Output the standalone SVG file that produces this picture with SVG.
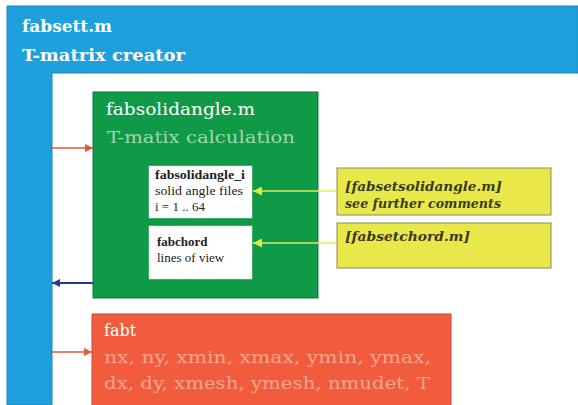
<svg xmlns="http://www.w3.org/2000/svg" width="578" height="405" viewBox="0 0 578 405">
<defs>
<style>
text{font-family:"DejaVu Serif","Liberation Serif",serif}
.big{font-size:17px;font-weight:bold}
.mid{font-size:16px}
.small{font-size:13px;fill:#222;font-family:"Liberation Serif","DejaVu Serif",serif}
.yel{font-size:12.5px;font-weight:bold;font-style:italic;fill:#3a3a1a}
</style>
<marker id="ahR" viewBox="0 0 10 10" refX="10" refY="5" markerWidth="8" markerHeight="8" orient="auto" markerUnits="userSpaceOnUse"><path d="M0,0 L10,5 L0,10 z" fill="#e8553a"/></marker>
<marker id="ahB" viewBox="0 0 10 10" refX="10" refY="5" markerWidth="8" markerHeight="8" orient="auto" markerUnits="userSpaceOnUse"><path d="M0,0 L10,5 L0,10 z" fill="#1d3d8c"/></marker>
<marker id="ahY" viewBox="0 0 10 10" refX="10" refY="5" markerWidth="9" markerHeight="9" orient="auto" markerUnits="userSpaceOnUse"><path d="M0,0 L10,5 L0,10 z" fill="#e2ea3c"/></marker>
</defs>
<rect width="578" height="405" fill="#ffffff"/>
<g id="fabsett">
<path d="M7,6 H578 V73 H52 V405 H7 Z" fill="#1ea0dc" stroke="#1a86bb" stroke-width="1"/>
<text class="big" x="22" y="32" fill="#ffffff" textLength="90" lengthAdjust="spacingAndGlyphs">fabsett.m</text>
<text class="big" x="22" y="61" fill="#ffffff" textLength="163" lengthAdjust="spacingAndGlyphs">T-matrix creator</text>
</g>
<g id="fabsolidangle">
<rect x="93" y="92" width="225" height="206" fill="#0f9a48" stroke="#0c7a39" stroke-width="1"/>
<text class="mid" x="106" y="115" fill="#ffffff" textLength="149" lengthAdjust="spacingAndGlyphs">fabsolidangle.m</text>
<text class="mid" x="107" y="143" fill="#9fd7a9" textLength="188" lengthAdjust="spacingAndGlyphs">T-matix calculation</text>
</g>
<g id="fabsolidangle_i">
<rect x="149" y="166" width="103" height="52" fill="#ffffff" stroke="#dddddd" stroke-width="0.5"/>
<text class="small" x="155" y="179" font-weight="bold" textLength="90" lengthAdjust="spacingAndGlyphs">fabsolidangle_i</text>
<text class="small" x="155" y="195" textLength="88" lengthAdjust="spacingAndGlyphs">solid angle files</text>
<text class="small" x="155" y="211">i = 1 .. 64</text>
</g>
<g id="fabchord">
<rect x="149" y="226" width="103" height="53" fill="#ffffff" stroke="#dddddd" stroke-width="0.5"/>
<text class="small" x="157" y="246" font-weight="bold">fabchord</text>
<text class="small" x="157" y="262">lines of view</text>
</g>
<g id="fabsetsolidangle">
<rect x="337" y="168" width="214" height="47" fill="#e8e84a" stroke="#8a8a5a" stroke-width="1"/>
<text class="yel" x="345" y="191" textLength="157" lengthAdjust="spacingAndGlyphs">[fabsetsolidangle.m]</text>
<text class="yel" x="345" y="208" font-size="11.5px" textLength="156" lengthAdjust="spacingAndGlyphs">see further comments</text>
</g>
<g id="fabsetchord">
<rect x="337" y="223" width="214" height="45" fill="#e8e84a" stroke="#8a8a5a" stroke-width="1"/>
<text class="yel" x="345" y="241" textLength="125" lengthAdjust="spacingAndGlyphs">[fabsetchord.m]</text>
</g>
<g id="fabt">
<rect x="92" y="314" width="359" height="95" fill="#f25c3e" stroke="#c44a30" stroke-width="1"/>
<text class="mid" x="104" y="336" fill="#ffffff">fabt</text>
<text class="mid" x="104" y="363" fill="#f8a48c" textLength="327" lengthAdjust="spacingAndGlyphs">nx, ny, xmin, xmax, ymin, ymax,</text>
<text class="mid" x="104" y="389" fill="#f8a48c" textLength="326" lengthAdjust="spacingAndGlyphs">dx, dy, xmesh, ymesh, nmudet, T</text>
</g>
<g id="connectors" fill="none">
<line x1="52" y1="148" x2="93" y2="148" stroke="#e8553a" stroke-width="1.5" marker-end="url(#ahR)"/>
<line x1="93" y1="283" x2="52" y2="283" stroke="#1d3d8c" stroke-width="1.8" marker-end="url(#ahB)"/>
<line x1="52" y1="352" x2="92" y2="352" stroke="#e8553a" stroke-width="1.5" marker-end="url(#ahR)"/>
<line x1="337" y1="191" x2="253" y2="191" stroke="#dfe85a" stroke-width="1.5" marker-end="url(#ahY)"/>
<line x1="337" y1="243" x2="253" y2="243" stroke="#dfe85a" stroke-width="1.5" marker-end="url(#ahY)"/>
</g>
</svg>
